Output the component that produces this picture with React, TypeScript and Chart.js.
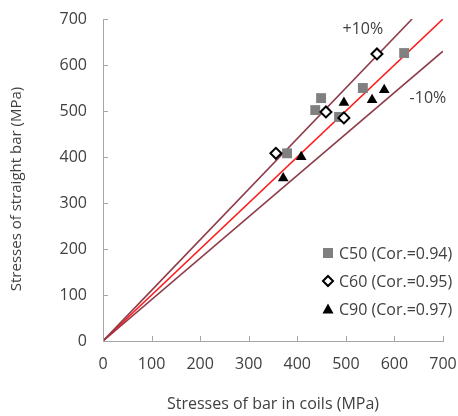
import React, { useEffect, useRef } from "react";
import { Chart, registerables } from "chart.js";

Chart.register(...registerables);

const C50_X = [379, 437, 449, 486, 535, 620];
const C50_Y = [408, 502, 528, 487, 550, 626];
const C60_X = [356, 459, 496, 564];
const C60_Y = [408, 498, 485, 624];
const C90_X = [371, 408, 496, 554, 579];
const C90_Y = [354, 400, 518, 524, 546];

const SERIES_LABELS = ["C50 (Cor.=0.94)", "C60 (Cor.=0.95)", "C90 (Cor.=0.97)"];
const TICKS = [0, 100, 200, 300, 400, 500, 600, 700];
const AXIS_MAX = 700;
const RATIOS = [1.1, 1.0, 0.9];
const BAND_LABELS = [
  { text: "+10%", x: 535, y: 678 },
  { text: "-10%", x: 669, y: 528 },
];
const X_TITLE = "Stresses of bar in coils (MPa)";
const Y_TITLE = "Stresses of straight bar (MPa)";

const FONT = "'Open Sans', sans-serif";
const TEXT = "#404040";

const toPts = (xs: number[], ys: number[]) => xs.map((x, i) => ({ x, y: ys[i] }));
const lineData = (r: number) => {
  const xEnd = Math.min(AXIS_MAX, AXIS_MAX / r);
  return [
    { x: 0, y: 0 },
    { x: xEnd, y: xEnd * r },
  ];
};

const decorPlugin = {
  id: "decor",
  afterDatasetsDraw(chart: any) {
    const { ctx, chartArea, scales } = chart;
    const xs = scales.x;
    const ys = scales.y;
    ctx.save();
    // inward ticks
    ctx.strokeStyle = "#a6a6a6";
    ctx.lineWidth = 1;
    ctx.beginPath();
    TICKS.forEach((t) => {
      const px = Math.round(xs.getPixelForValue(t)) + 0.5;
      ctx.moveTo(px, chartArea.bottom);
      ctx.lineTo(px, chartArea.bottom - 5);
      const py = Math.round(ys.getPixelForValue(t)) + 0.5;
      ctx.moveTo(chartArea.left, py);
      ctx.lineTo(chartArea.left + 5, py);
    });
    ctx.stroke();
    // y title
    ctx.save();
    ctx.translate(17, 189);
    ctx.rotate(-Math.PI / 2);
    ctx.fillStyle = TEXT;
    ctx.font = `15px ${FONT}`;
    ctx.textAlign = "center";
    ctx.textBaseline = "middle";
    ctx.fillText(Y_TITLE, 0, 0);
    ctx.restore();
    // band labels
    ctx.fillStyle = TEXT;
    ctx.font = `16px ${FONT}`;
    ctx.textAlign = "center";
    ctx.textBaseline = "middle";
    BAND_LABELS.forEach((b) => {
      ctx.fillText(b.text, xs.getPixelForValue(b.x), ys.getPixelForValue(b.y));
    });
    // legend
    const lx = 328;
    const rows = [253, 281, 309];
    ctx.font = `16px ${FONT}`;
    ctx.textAlign = "left";
    for (let i = 0; i < 3; i++) {
      const ds = chart.data.datasets[i];
      const y = rows[i];
      ctx.fillStyle = ds.pointBackgroundColor;
      ctx.strokeStyle = ds.pointBorderColor;
      ctx.lineWidth = ds.pointBorderWidth;
      ctx.beginPath();
      if (ds.pointStyle === "rect") {
        ctx.rect(lx - 5, y - 5, 10, 10);
        ctx.fill();
      } else if (ds.pointStyle === "rectRot") {
        ctx.moveTo(lx - 5, y);
        ctx.lineTo(lx, y - 5);
        ctx.lineTo(lx + 5, y);
        ctx.lineTo(lx, y + 5);
        ctx.closePath();
        ctx.fill();
        ctx.stroke();
      } else {
        ctx.moveTo(lx, y - 5.5);
        ctx.lineTo(lx + 5.5, y + 4.5);
        ctx.lineTo(lx - 5.5, y + 4.5);
        ctx.closePath();
        ctx.fill();
      }
      ctx.fillStyle = TEXT;
      ctx.fillText(SERIES_LABELS[i], lx + 11, y + 1);
    }
    ctx.restore();
  },
};

const zeroPad = (s: any) => {
  s.paddingTop = 0;
  s.paddingBottom = 0;
  s.paddingLeft = 0;
  s.paddingRight = 0;
};

export default function App() {
  const ref = useRef<HTMLCanvasElement>(null);
  useEffect(() => {
    if (!ref.current) return;
    const lineColors = ["#8e3b4a", "#ff1a1a", "#8e3b4a"];
    const chart = new Chart(ref.current, {
      type: "scatter",
      data: {
        datasets: [
          {
            label: SERIES_LABELS[0],
            data: toPts(C50_X, C50_Y),
            pointStyle: "rect",
            pointRadius: 7,
            pointBackgroundColor: "#808080",
            pointBorderColor: "#808080",
            pointBorderWidth: 0,
            order: 1,
          },
          {
            label: SERIES_LABELS[1],
            data: toPts(C60_X, C60_Y),
            pointStyle: "rectRot",
            pointRadius: 5.5,
            pointBackgroundColor: "#ffffff",
            pointBorderColor: "#000000",
            pointBorderWidth: 2,
            order: 0,
          },
          {
            label: SERIES_LABELS[2],
            data: toPts(C90_X, C90_Y),
            pointStyle: "triangle",
            pointRadius: 6.2,
            pointBackgroundColor: "#000000",
            pointBorderColor: "#000000",
            pointBorderWidth: 0,
            order: 0,
          },
          ...RATIOS.map((r, i) => ({
            label: "ratio " + r,
            data: lineData(r),
            showLine: true,
            borderColor: lineColors[i],
            borderWidth: 1.6,
            pointRadius: 0,
            order: 5,
          })),
        ] as any,
      },
      options: {
        animation: false,
        responsive: false,
        maintainAspectRatio: false,
        layout: { padding: { left: 0, right: 15, top: 19, bottom: 0 } },
        plugins: { legend: { display: false }, tooltip: { enabled: false } },
        scales: {
          x: {
            type: "linear",
            min: 0,
            max: AXIS_MAX,
            afterBuildTicks: (s: any) => {
              s.ticks = TICKS.map((v) => ({ value: v }));
            },
            afterFit: (s: any) => {
              s.height = 75;
              zeroPad(s);
            },
            grid: { display: false, drawTicks: false },
            border: { display: true, color: "#a6a6a6", width: 1 },
            ticks: {
              color: TEXT,
              font: { family: FONT, size: 16 },
              padding: 14,
              maxRotation: 0,
            },
            title: {
              display: true,
              text: X_TITLE,
              color: TEXT,
              font: { family: FONT, size: 16 },
              padding: { top: 0, bottom: 2 },
            },
          },
          y: {
            type: "linear",
            min: 0,
            max: AXIS_MAX,
            afterBuildTicks: (s: any) => {
              s.ticks = TICKS.map((v) => ({ value: v }));
            },
            afterFit: (s: any) => {
              s.width = 103;
              zeroPad(s);
            },
            grid: { display: false, drawTicks: false },
            border: { display: true, color: "#a6a6a6", width: 1 },
            ticks: {
              color: TEXT,
              font: { family: FONT, size: 16 },
              padding: 16,
            },
            title: { display: false },
          },
        },
      },
      plugins: [decorPlugin],
    });
    return () => chart.destroy();
  }, []);
  return (
    <div style={{ position: "fixed", left: 0, top: 0, width: 458, height: 416, background: "#fff" }}>
      <canvas ref={ref} width={458} height={416} style={{ display: "block" }} />
    </div>
  );
}
